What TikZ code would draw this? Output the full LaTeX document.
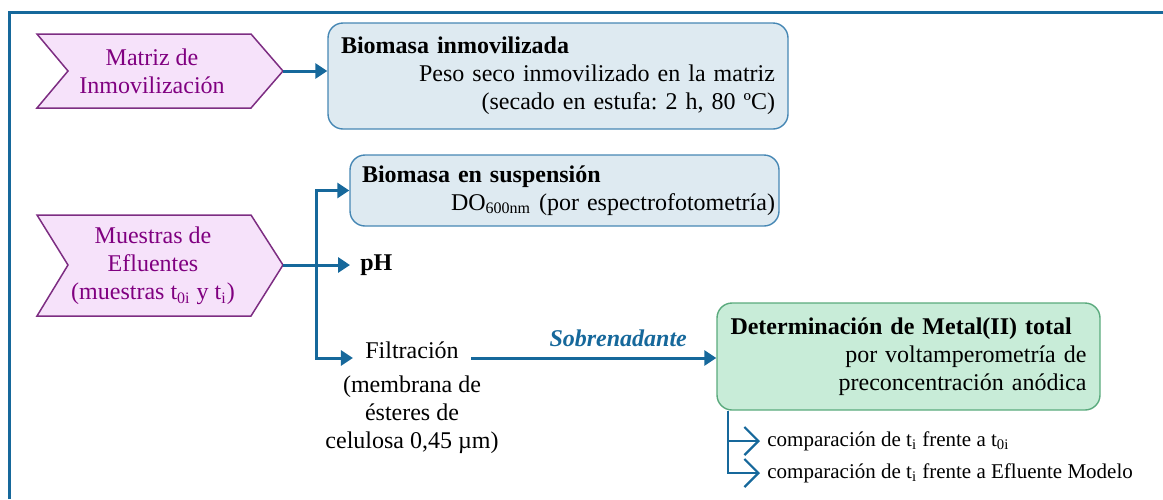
\documentclass[tikz,border=0pt]{standalone}
\usepackage{fontspec}
\setmainfont{Liberation Serif}
\usetikzlibrary{arrows.meta,positioning,calc}
\definecolor{flowblue}{RGB}{22,104,155}
\definecolor{chevpurple}{RGB}{125,45,130}
\definecolor{chevpink}{RGB}{246,226,250}
\definecolor{chevink}{RGB}{128,0,128}
\definecolor{boxline}{RGB}{70,135,180}
\definecolor{boxfill}{RGB}{222,234,241}
\definecolor{detline}{RGB}{90,170,125}
\definecolor{detfill}{RGB}{200,236,216}
\newcommand{\bodyfont}{\fontsize{12}{14}\selectfont}
\newcommand{\smallbody}{\fontsize{10.5}{12}\selectfont}
\frenchspacing

\begin{document}
\begin{tikzpicture}[x=0.5pt, y=-0.5pt,
    frame/.style={draw=flowblue, line width=1.5pt},
    flow/.style={draw=flowblue, line width=1.5pt, -{Triangle[length=6pt,width=7.5pt]}},
    cmpline/.style={draw=flowblue, line width=1.1pt, -{Straight Barb[length=7pt,width=14pt]}},
    chev/.style={draw=chevpurple, fill=chevpink, line width=0.75pt},
    chevtext/.style={text=chevink, align=center, font=\bodyfont},
    bbox/.style={draw=boxline, fill=boxfill, line width=0.7pt, rounded corners=7.5pt,
                 align=right, font=\bodyfont, inner ysep=0pt},
    dbox/.style={draw=detline, fill=detfill, line width=0.7pt, rounded corners=7.5pt,
                 align=right, font=\bodyfont, inner ysep=0pt},
    plain/.style={font=\bodyfont},
    cmptext/.style={font=\smallbody, anchor=west, inner xsep=3.5pt}]
\useasboundingbox (0,0) rectangle (1163,499);
\draw[frame] (9,499) -- (9,12) -- (1163,12);
% entradas
\draw[chev] (37,34) -- (251,34) -- (283,71) -- (251,108) -- (37,108) -- (68,71) -- cycle;
\draw[chev] (37,215) -- (251,215) -- (283,265) -- (251,316) -- (37,316) -- (68,265) -- cycle;
\coordinate (matriz tip) at (283,71);
\coordinate (muestras tip) at (283,265);
\node[chevtext] (matriz) at (152,71) {Matriz de\\Inmovilización};
\node[chevtext] (muestras) at (153,266) {Muestras de\\Efluentes\\(muestras t\textsubscript{0i} y t\textsubscript{i})};
% cajas
\node[bbox, minimum width=230pt, minimum height=53pt, text width=217pt, inner xsep=6.5pt]
    (inmov) at (558,76) {\textbf{Biomasa inmovilizada}\hfill\null\\
    Peso seco inmovilizado en la matriz\\(secado en estufa: 2 h, 80 ºC)};
\node[bbox, minimum width=214.5pt, minimum height=35.5pt, text width=210.5pt, inner xsep=2pt]
    (susp) at (564.5,190.5) {\hspace*{4pt}\textbf{Biomasa en suspensión}\hfill\null\\
    DO\textsubscript{600nm} (por espectrofotometría)};
\node[plain, anchor=west, inner xsep=5pt] (ph) at (350,265) {\textbf{pH}};
\node[plain, anchor=base, inner xsep=6pt] (filt) at (412,358) {Filtración};
\node[plain, align=center] (filtnote) at (412,414.5) {(membrana de\\ésteres de\\celulosa 0,45 µm)};
\node[dbox, minimum width=191.5pt, minimum height=53.5pt, text width=178pt, inner xsep=6.75pt]
    (det) at (908.5,356.5) {\textbf{Determinación de Metal(II) total}\hfill\null\\
    por voltamperometría de\\preconcentración anódica};
\node[cmptext] (cmp1) at (760,441) {comparación de t\textsubscript{i} frente a t\textsubscript{0i}};
\node[cmptext] (cmp2) at (760,473) {comparación de t\textsubscript{i} frente a Efluente Modelo};
% conexiones
\coordinate (split) at (316,265);
\draw[flow] (matriz tip) -- (matriz tip -| inmov.west);
\draw[flow] (muestras tip) -- (ph.west);
\draw[flow] (split) |- (susp.west);
\draw[flow] (split) |- (filt.base west);
\draw[flow] (filt.base east) -- (filt.base east -| det.west)
    node[pos=0.6, above=1.5pt, text=flowblue, font=\bodyfont] (sobre) {\textbf{\textit{Sobrenadante}}};
\draw[cmpline] ([xshift=6pt]det.south west) |- (cmp1.west);
\draw[cmpline] ([xshift=6pt]det.south west) |- (cmp2.west);
\end{tikzpicture}
\end{document}
